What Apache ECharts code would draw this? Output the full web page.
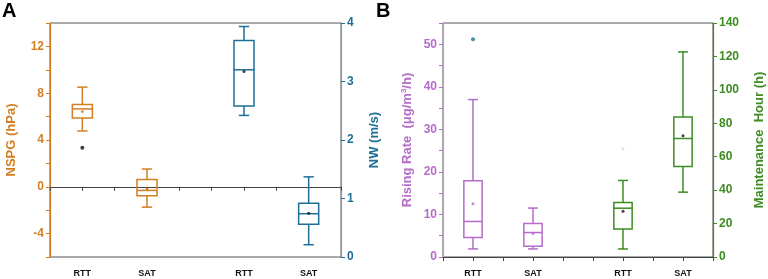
<!DOCTYPE html>
<html>
<head>
<meta charset="utf-8">
<script src="https://cdn.jsdelivr.net/npm/echarts@6/dist/echarts.min.js"></script>
<style>html,body{margin:0;padding:0;background:#fff}#c{width:768px;height:279px}</style>
</head>
<body>
<div id="c"></div>
<script>
// ---- data ----
const xTickLabels = ['', 'RTT', '', 'SAT', '', '', 'RTT', '', 'SAT', ''];
// slot indices (into xTickLabels) where each group's box sits
const slotsLeft = [1, 3];
const slotsRight = [6, 8];

// Panel A: NSPG (hPa) boxes [low whisker, Q1, median, Q3, high whisker]
const nspgBoxes = [[4.77, 5.89, 6.66, 7.03, 8.52], [-1.74, -0.77, -0.31, 0.63, 1.52]];
const nspgMeans = [6.43, -0.17];
const nspgOutliers = [[1, 3.34]];
// Panel A: NW (m/s)
const nwBoxes = [[2.42, 2.58, 3.20, 3.70, 3.94], [0.21, 0.56, 0.74, 0.92, 1.37]];
const nwMeans = [3.17, 0.75];

// Panel B: Rising rate (ug/m3/h)
const rateBoxes = [[1.9, 4.6, 8.35, 17.9, 37.0], [1.9, 2.5, 5.75, 7.9, 11.5]];
const rateMeans = [12.5, 5.5];
const rateOutliers = [[1, 51.2]];
// Panel B: Maintenance hour (h)
const hourBoxes = [[4.8, 16.8, 29.2, 32.6, 45.8], [38.8, 54.2, 70.9, 83.7, 122.7]];
const hourMeans = [27.4, 72.5];
const hourOutliers = [[6, 64.7]];

// ---- styling ----
const ORANGE = '#D27F24', BLUE = '#1C6F96', PURPLE = '#B56CC8', GREEN = '#3E8C22';
const FONT = 'Liberation Sans, Arial, sans-serif';

function boxData(slots, boxes) { return boxes.map((b, i) => [slots[i]].concat(b)); }
function meanData(slots, means) { return means.map((m, i) => [slots[i], m]); }

function boxRender(color, frac, capFrac) {
  return function (params, api) {
    const x = api.value(0);
    const lo = api.coord([x, api.value(1)]);
    const q1 = api.coord([x, api.value(2)]);
    const md = api.coord([x, api.value(3)]);
    const q3 = api.coord([x, api.value(4)]);
    const hi = api.coord([x, api.value(5)]);
    const band = api.size([1, 0])[0];
    const hw = band * frac / 2, cw = band * capFrac / 2, cx = lo[0];
    const st = { stroke: color, lineWidth: 1.5, fill: null };
    const line = (x1, y1, x2, y2) => ({ type: 'line', shape: { x1, y1, x2, y2 }, style: st });
    return {
      type: 'group',
      children: [
        { type: 'rect', shape: { x: cx - hw, y: q3[1], width: 2 * hw, height: q1[1] - q3[1] }, style: { stroke: color, lineWidth: 1.5, fill: 'rgba(0,0,0,0)' } },
        line(cx - hw, md[1], cx + hw, md[1]),
        line(cx, q3[1], cx, hi[1]),
        line(cx, q1[1], cx, lo[1]),
        line(cx - cw, hi[1], cx + cw, hi[1]),
        line(cx - cw, lo[1], cx + cw, lo[1])
      ]
    };
  };
}

function xAxis(gridIndex) {
  return {
    type: 'value', gridIndex, min: 0, max: 9, interval: 1,
    axisLine: { show: true, lineStyle: { color: '#444', width: 1 } },
    axisTick: { show: true, length: 4, lineStyle: { color: '#444' } },
    splitLine: { show: false },
    axisLabel: { formatter: v => xTickLabels[v] || '', color: '#111', fontWeight: 'bold', fontSize: 9, fontFamily: FONT, margin: 12 }
  };
}

function yAxis(gridIndex, pos, min, max, interval, color, lineColor, name, nameGap, fmt, extraName) {
  const a = {
    type: 'value', gridIndex, position: pos, min, max, interval,
    name, nameLocation: 'middle', nameRotate: 90, nameGap,
    nameTextStyle: Object.assign({ color, fontWeight: 'bold', fontSize: 13, fontFamily: FONT }, extraName || {}),
    axisLine: { show: true, lineStyle: { color: lineColor, width: 1.2 } },
    axisTick: { show: true, length: 4, lineStyle: { color } },
    splitLine: { show: false },
    axisLabel: { color, fontWeight: 'bold', fontSize: 12, fontFamily: FONT, margin: 6, formatter: fmt || (v => String(v)) }
  };
  return a;
}

const chart = echarts.init(document.getElementById('c'), null, { renderer: 'canvas' });
chart.setOption({
  animation: false,
  backgroundColor: '#fff',
  grid: [
    { left: 50, right: 427, top: 23, bottom: 22, show: true, borderColor: '#555', borderWidth: 1, backgroundColor: 'rgba(0,0,0,0)' },
    { left: 443, right: 55, top: 23, bottom: 22, show: true, borderColor: '#555', borderWidth: 1, backgroundColor: 'rgba(0,0,0,0)' }
  ],
  graphic: [
    { type: 'text', left: 2, top: 1, style: { text: 'A', font: 'bold 20px ' + FONT, fill: '#000' } },
    { type: 'text', left: 376, top: 1, style: { text: 'B', font: 'bold 20px ' + FONT, fill: '#000' } }
  ],
  xAxis: [xAxis(0), xAxis(1)],
  yAxis: [
    yAxis(0, 'left', -6, 14, 2, ORANGE, ORANGE, 'NSPG (hPa)', 32, v => (v % 4 === 0 ? String(v) : '')),
    yAxis(0, 'right', 0, 4, 1, BLUE, '#7FA2BC', 'NW (m/s)', 27),
    yAxis(1, 'left', 0, 55, 5, PURPLE, '#C99AD6', 'Rising Rate  (μg/m{sup|3}/h)', 29, v => (v % 10 === 0 ? String(v) : ''),
      { rich: { sup: { fontSize: 8, fontWeight: 'bold', color: PURPLE, fontFamily: FONT, verticalAlign: 'top', padding: [0, 0, 6, 0] } } }),
    yAxis(1, 'right', 0, 140, 20, GREEN, GREEN, 'Maintenance  Hour (h)', 40)
  ],
  series: [
    { type: 'custom', xAxisIndex: 0, yAxisIndex: 0, renderItem: boxRender(ORANGE, 0.62, 0.32), encode: { x: 0, y: [1, 2, 3, 4, 5] }, data: boxData(slotsLeft, nspgBoxes) },
    { type: 'scatter', xAxisIndex: 0, yAxisIndex: 0, symbolSize: 3, itemStyle: { color: ORANGE }, data: meanData(slotsLeft, nspgMeans) },
    { type: 'scatter', xAxisIndex: 0, yAxisIndex: 0, symbolSize: 4, itemStyle: { color: '#111' }, data: nspgOutliers },
    { type: 'custom', xAxisIndex: 0, yAxisIndex: 1, renderItem: boxRender(BLUE, 0.62, 0.32), encode: { x: 0, y: [1, 2, 3, 4, 5] }, data: boxData(slotsRight, nwBoxes) },
    { type: 'scatter', xAxisIndex: 0, yAxisIndex: 1, symbolSize: 3, itemStyle: { color: '#111' }, data: meanData(slotsRight, nwMeans) },

    { type: 'custom', xAxisIndex: 1, yAxisIndex: 2, renderItem: boxRender(PURPLE, 0.61, 0.33), encode: { x: 0, y: [1, 2, 3, 4, 5] }, data: boxData(slotsLeft, rateBoxes) },
    { type: 'scatter', xAxisIndex: 1, yAxisIndex: 2, symbolSize: 3, itemStyle: { color: PURPLE }, data: meanData(slotsLeft, rateMeans) },
    { type: 'scatter', xAxisIndex: 1, yAxisIndex: 2, symbolSize: 4, itemStyle: { color: '#1A6F95' }, data: rateOutliers },
    { type: 'custom', xAxisIndex: 1, yAxisIndex: 3, renderItem: boxRender(GREEN, 0.61, 0.33), encode: { x: 0, y: [1, 2, 3, 4, 5] }, data: boxData(slotsRight, hourBoxes) },
    { type: 'scatter', xAxisIndex: 1, yAxisIndex: 3, symbolSize: 3, itemStyle: { color: '#111' }, data: meanData(slotsRight, hourMeans) },
    { type: 'scatter', xAxisIndex: 1, yAxisIndex: 3, symbolSize: 3, itemStyle: { color: '#d6d6d6' }, data: hourOutliers }
  ]
});
</script>
</body>
</html>
